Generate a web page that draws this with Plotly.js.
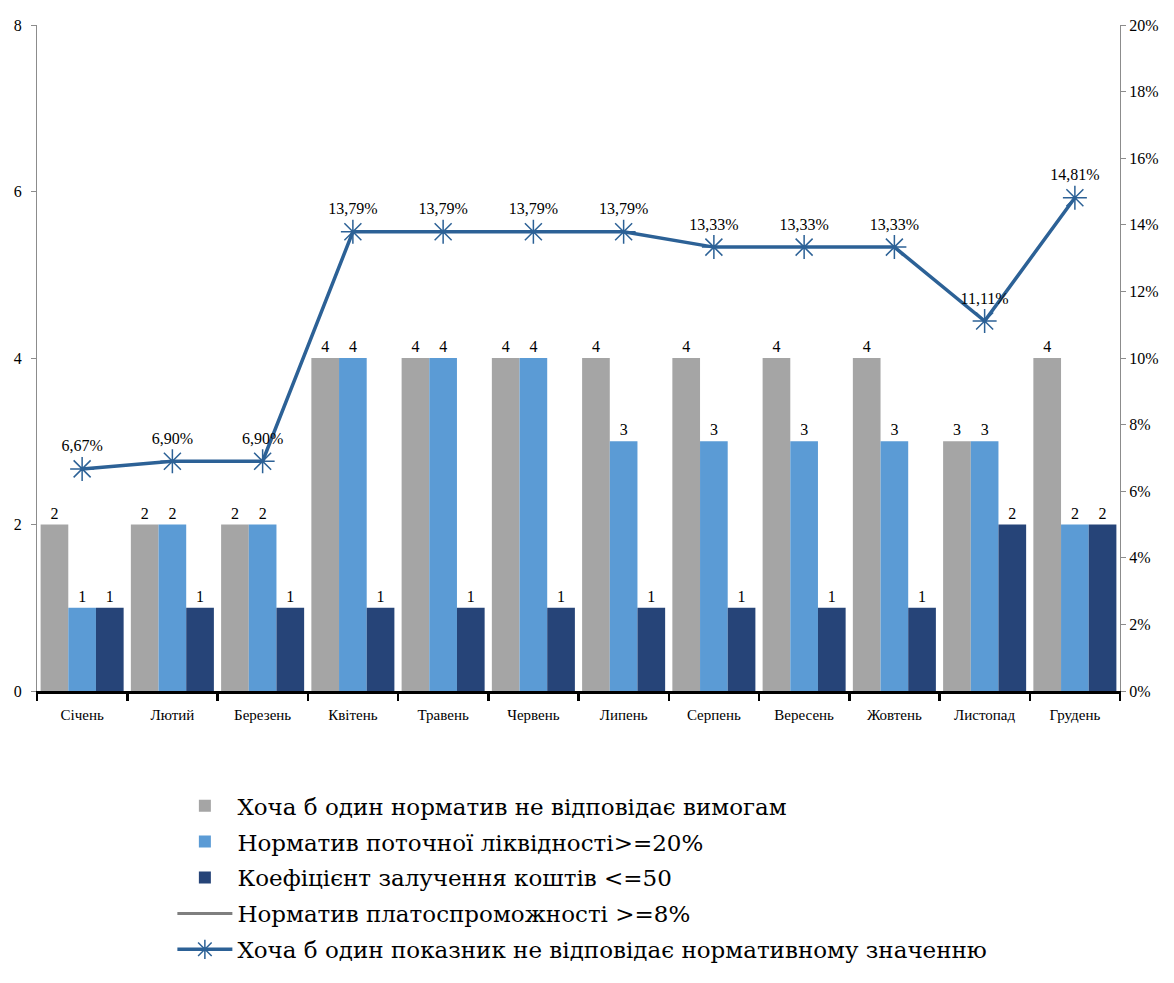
<!DOCTYPE html>
<html>
<head>
<meta charset="utf-8">
<script src="https://cdn.plot.ly/plotly-3.0.1.min.js"></script>
<style>html,body{margin:0;padding:0;background:#fff;}#chart{width:1174px;height:983px;}</style>
</head>
<body>
<div id="chart"></div>
<script>
const months = ['Січень','Лютий','Березень','Квітень','Травень','Червень','Липень','Серпень','Вересень','Жовтень','Листопад','Грудень'];
const anyNormFail = [2,2,2,4,4,4,4,4,4,4,3,4];
const liquidity = [1,2,2,4,4,4,3,3,3,3,3,2];
const fundsRatio = [1,1,1,1,1,1,1,1,1,1,2,2];
const solvency = [null,null,null,null,null,null,null,null,null,null,null,null];
const anyIndicatorPct = [6.67,6.90,6.90,13.79,13.79,13.79,13.79,13.33,13.33,13.33,11.11,14.81];

const names = ['Хоча б один норматив не відповідає вимогам','Норматив поточної ліквідності>=20%','Коефіцієнт залучення коштів <=50','Норматив платоспроможності >=8%','Хоча б один показник не відповідає нормативному значенню'];

const serif = 'Liberation Serif';
const legendFont = 'DejaVu Serif';
function bar(vals, name, color, g){
  return {type:'bar', x:months, y:vals, name:name, legendgroup:g, marker:{color:color},
    text:vals.map(String), textposition:'outside', cliponaxis:false,
    textfont:{family:serif,size:16,color:'#000'}, hoverinfo:'none'};
}
const traces = [
  bar(anyNormFail, names[0], '#a5a5a5','g1'),
  bar(liquidity, names[1], '#5b9bd5','g2'),
  bar(fundsRatio, names[2], '#264478','g3'),
  {type:'scatter', mode:'lines', x:months, y:solvency, yaxis:'y2', name:names[3], legendgroup:'g4', line:{color:'#7f7f7f',width:3}, showlegend:true},
  {type:'scatter', mode:'lines+markers+text', x:months, y:anyIndicatorPct.map(v=>v/100), yaxis:'y2', name:names[4], legendgroup:'g5',
   line:{color:'#2c6196',width:3.5}, marker:{symbol:'asterisk-open',size:20,color:'#2c6196',line:{color:'#2c6196',width:1.5}},
   text:anyIndicatorPct.map(v=>v.toFixed(2).replace('.',',')+'%'), textposition:'top center', cliponaxis:false,
   textfont:{family:serif,size:16,color:'#000'}}
];

const layout = {
  width:1174, height:983,
  margin:{l:37,r:54,t:25,b:290},
  paper_bgcolor:'#fff', plot_bgcolor:'#fff',
  font:{family:serif,size:15,color:'#000'},
  barmode:'group', bargap:0.08, bargroupgap:0,
  showlegend:true,
  xaxis:{range:[-0.5,11.5], showgrid:false, showline:true, linecolor:'#000', linewidth:2.5, ticks:'outside', tickson:'boundaries', ticklen:7, tickwidth:2.5, tickcolor:'#000', tickfont:{family:serif,size:15}, ticklabelstandoff:8, zeroline:false},
  yaxis:{range:[0,8], dtick:2, showgrid:false, showline:true, linecolor:'#8c8c8c', linewidth:1, ticks:'outside', ticklen:5, tickcolor:'#8c8c8c', zeroline:false, tickfont:{family:serif,size:16}, ticklabelstandoff:6},
  yaxis2:{range:[0,0.2], dtick:0.02, tickformat:'.0%', overlaying:'y', side:'right', showgrid:false, showline:true, linecolor:'#8c8c8c', linewidth:1, ticks:'outside', ticklen:5, tickcolor:'#8c8c8c', zeroline:false, tickfont:{family:serif,size:16}},
  legend:{orientation:'v', x:0.125, xanchor:'left', y:-0.14, yanchor:'top', font:{family:legendFont,size:23,color:'#000'}, itemwidth:55, tracegroupgap:3, traceorder:'grouped', bgcolor:'rgba(0,0,0,0)'}
};
Plotly.newPlot('chart', traces, layout, {displayModeBar:false, staticPlot:true});
</script>
</body>
</html>
